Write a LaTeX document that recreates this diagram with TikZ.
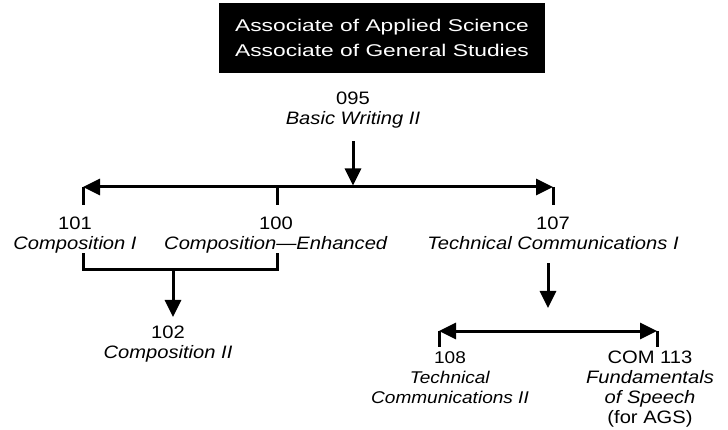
\documentclass[tikz,border=0pt]{standalone}
\usepackage{fontspec}
\setmainfont{Liberation Sans}[FakeStretch=1.12]
\newfontfamily\bannerfont{Liberation Sans}[FakeStretch=1.34]
\usetikzlibrary{arrows.meta,positioning}

\tikzset{
    course/.style={align=center, inner sep=0pt, anchor=north,
        font=\fontsize{18}{20}\selectfont},
    smallcourse/.style={course, font=\fontsize{17}{20}\selectfont},
    link/.style={line width=3pt},
    linkarrow/.style={link, -{Triangle[length=17pt,width=16pt]}},
    splitarrow/.style={link, {Triangle[length=17pt,width=16pt]}-{Triangle[length=17pt,width=16pt]}}
}

\begin{document}
\begin{tikzpicture}[x=1pt,y=-1pt]
\useasboundingbox (0,0) rectangle (728,430);

% Degree banner
\node[fill=black,
    text=white,
    align=center,
    minimum width=326pt,
    minimum height=70pt,
    font=\bannerfont\fontsize{17}{25}\selectfont
] (banner) at (382,38) {Associate of Applied Science\\Associate of General Studies};

% Courses
\node[course] (c095) at (353,91.5) {095\\\textit{Basic Writing II}};
\node[course] (c101) at (75,216.5) {101\\\textit{Composition I}};
\node[course] (c100) at (276,216.5) {100\\\textit{Composition---Enhanced}};
\node[course] (c107) at (553,216.5) {107\\\textit{Technical Communications I}};
\node[course] (c102) at (168,325.5) {102\\\textit{Composition II}};
\node[smallcourse] (c108) at (450,351) {108\\\textit{Technical}\\\textit{Communications II}};
\node[course] (c113) at (650,351) {COM 113\\\textit{Fundamentals}\\\textit{of Speech}\\(for AGS)};

% Junctions
\coordinate (hub) at (353,187);
\coordinate (jL) at (83,187);
\coordinate (jM) at (277,187);
\coordinate (jR) at (553,187);
\coordinate (merge) at (173,270);
\coordinate (split) at (548,331);
\coordinate (sL) at (439,331);
\coordinate (sR) at (657,331);

% Arrows
\draw[linkarrow, shorten <=13pt, shorten >=1.5pt] (c095) -- (hub);
\draw[splitarrow] (jL) -- (jR);
\draw[link, shorten >=11.5pt] (jL) -- (jL |- c101.north);
\draw[link, shorten >=11.5pt] (jM) -- (jM |- c100.north);
\draw[link, shorten >=11.5pt] (jR) -- (jR |- c107.north);

\draw[link] (jL |- c101.south) |- (merge) -| (jM |- c100.south);
\draw[linkarrow, shorten >=8.5pt] (merge) -- (merge |- c102.north);

\draw[linkarrow, shorten <=13.5pt, shorten >=23pt] (split |- c107.south) -- (split);
\draw[splitarrow] (sL) -- (sR);
\draw[link, shorten >=4pt] (sL) -- (sL |- c108.north);
\draw[link, shorten >=4pt] (sR) -- (sR |- c113.north);

\end{tikzpicture}
\end{document}
